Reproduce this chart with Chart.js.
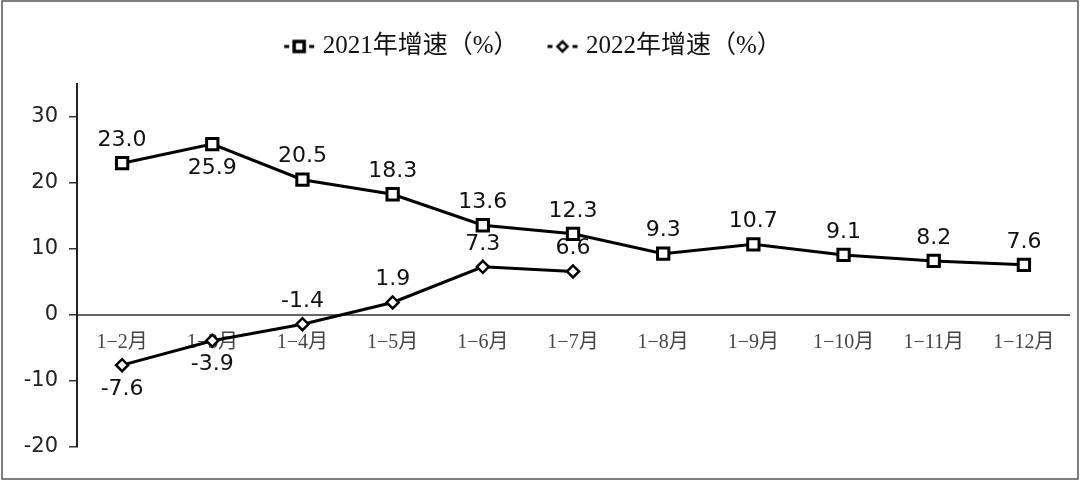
<!DOCTYPE html>
<html>
<head>
<meta charset="utf-8">
<script src="https://cdn.jsdelivr.net/npm/chart.js@4/dist/chart.umd.min.js"></script>
<style>
  html, body { margin: 0; padding: 0; background: #fff; }
</style>
</head>
<body>
<canvas id="growthChart" width="1080" height="481"></canvas>
<script>
"use strict";

var months = ['1−2月', '1−3月', '1−4月', '1−5月', '1−6月', '1−7月', '1−8月', '1−9月', '1−10月', '1−11月', '1−12月'];
var growth2021 = [23.0, 25.9, 20.5, 18.3, 13.6, 12.3, 9.3, 10.7, 9.1, 8.2, 7.6];
var growth2022 = [-7.6, -3.9, -1.4, 1.9, 7.3, 6.6];
var seriesNames = ['2021年增速（%）', '2022年增速（%）'];
var yTickValues = [-20, -10, 0, 10, 20, 30];
// which value labels sit under their point
var below2021 = [1];
var below2022 = [0, 1];

// little "-□-" style legend symbols
function legendIcon(kind) {
  var cv = document.createElement('canvas');
  cv.width = 32; cv.height = 16;
  var c = cv.getContext('2d');
  c.strokeStyle = '#000';
  c.lineWidth = 3;
  c.beginPath();
  c.moveTo(1, 8); c.lineTo(6, 8);
  c.moveTo(26, 8); c.lineTo(31, 8);
  c.stroke();
  c.fillStyle = '#fff';
  c.lineWidth = kind === 'rect' ? 3.5 : 2.5;
  c.beginPath();
  if (kind === 'rect') {
    c.rect(11, 3, 10, 10);
  } else {
    c.moveTo(16, 3); c.lineTo(21, 8); c.lineTo(16, 13); c.lineTo(11, 8); c.closePath();
  }
  c.fill();
  c.stroke();
  return cv;
}

// extra room between the legend and the plot
var legendGap = {
  id: 'legendGap',
  beforeInit: function (chart) {
    var fit = chart.legend.fit;
    chart.legend.fit = function () {
      fit.bind(chart.legend)();
      this.height += 15;
    };
  }
};

var valueLabels = {
  id: 'valueLabels',
  afterDatasetsDraw: function (chart) {
    var ctx = chart.ctx;
    var belowSets = [below2021, below2022];
    ctx.save();
    ctx.font = '22px "DejaVu Sans"';
    ctx.fillStyle = '#111';
    ctx.textAlign = 'center';
    ctx.textBaseline = 'middle';
    chart.data.datasets.forEach(function (ds, di) {
      var meta = chart.getDatasetMeta(di);
      meta.data.forEach(function (pt, i) {
        var dy = belowSets[di].indexOf(i) >= 0 ? 24 : -23;
        ctx.fillText(ds.data[i].toFixed(1), pt.x, pt.y + dy);
      });
    });
    ctx.restore();
  }
};

var frame = {
  id: 'frame',
  beforeDraw: function (chart) {
    var ctx = chart.ctx;
    ctx.save();
    ctx.fillStyle = '#fff';
    ctx.fillRect(0, 0, chart.width, chart.height);
    ctx.strokeStyle = '#555';
    ctx.lineWidth = 1.5;
    ctx.strokeRect(2, 1, 1076, 478);
    ctx.restore();
  }
};

var growthCtx = document.getElementById('growthChart').getContext('2d');
var growthChart = new Chart(growthCtx, {
  type: 'line',
  data: {
    labels: months,
    datasets: [{
      label: seriesNames[0],
      data: growth2021,
      borderColor: '#000',
      borderWidth: 3,
      pointStyle: 'rect',
      pointRadius: 8,
      pointBorderWidth: 3,
      pointBackgroundColor: '#fff',
      pointBorderColor: '#000',
      tension: 0
    }, {
      label: seriesNames[1],
      data: growth2022,
      borderColor: '#000',
      borderWidth: 3,
      pointStyle: 'rectRot',
      pointRadius: 6,
      pointBorderWidth: 2.5,
      pointBackgroundColor: '#fff',
      pointBorderColor: '#000',
      tension: 0
    }]
  },
  options: {
    responsive: false,
    animation: { duration: 0 },
    layout: { padding: { top: 1, right: 10, bottom: 34, left: 0 } },
    plugins: {
      tooltip: { enabled: false },
      legend: {
        labels: {
          usePointStyle: true,
          pointStyleWidth: 22,
          padding: 33,
          color: '#111',
          font: { family: '"Liberation Serif", "Noto Sans CJK SC", serif', size: 25 },
          generateLabels: function (chart) {
            return chart.data.datasets.map(function (ds, i) {
              return {
                text: ds.label,
                datasetIndex: i,
                pointStyle: legendIcon(i === 0 ? 'rect' : 'diamond'),
                fillStyle: '#fff',
                strokeStyle: '#000',
                lineWidth: 0,
                fontColor: '#111'
              };
            });
          }
        }
      }
    },
    scales: {
      x: {
        offset: true,
        position: { y: 0 },
        grid: { display: false, drawTicks: false, offset: true },
        border: { color: '#666', width: 2 },
        ticks: {
          padding: 16,
          color: '#444',
          maxRotation: 0,
          autoSkip: false,
          font: { family: '"Liberation Serif", "Noto Sans CJK SC", serif', size: 20 }
        }
      },
      y: {
        min: -20,
        max: 35,
        grid: { drawOnChartArea: false, drawTicks: true, tickLength: 8, color: '#333', lineWidth: 1.5 },
        border: { color: '#222', width: 2 },
        afterBuildTicks: function (scale) {
          scale.ticks = yTickValues.map(function (v) { return { value: v }; });
        },
        afterFit: function (scale) { scale.width = 77; },
        ticks: {
          padding: 11,
          color: '#222',
          font: { family: '"DejaVu Sans"', size: 21 }
        }
      }
    }
  },
  plugins: [frame, legendGap, valueLabels]
});
</script>
</body>
</html>
